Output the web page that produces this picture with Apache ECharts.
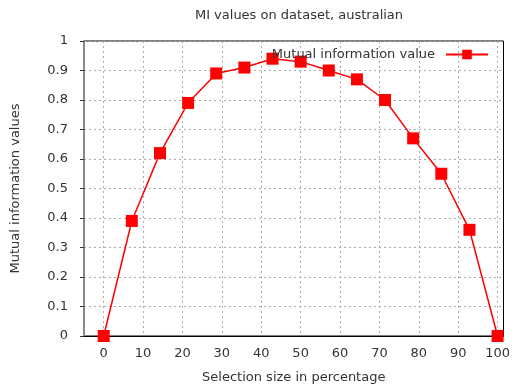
<!DOCTYPE html>
<html>
<head>
<meta charset="utf-8">
<script src="https://cdn.jsdelivr.net/npm/echarts@6/dist/echarts.min.js"></script>
<style>
  html, body { margin: 0; padding: 0; background: #fff; }
  #chart { width: 513px; height: 390px; }
</style>
</head>
<body>
<div id="chart"></div>
<script>
// Selection size (%) and the mutual information measured at each size
const selectionSizes = [0, 7.14, 14.29, 21.43, 28.57, 35.71, 42.86, 50, 57.14, 64.29, 71.43, 78.57, 85.71, 92.86, 100];
const miValues = [0, 0.39, 0.62, 0.79, 0.89, 0.91, 0.94, 0.93, 0.90, 0.87, 0.80, 0.67, 0.55, 0.36, 0];
const xTicks = [0, 10, 20, 30, 40, 50, 60, 70, 80, 90, 100];

const font = 'DejaVu Sans';
const textColor = '#333';
const fontSize = 13;

const chart = echarts.init(document.getElementById('chart'), null, { renderer: 'canvas' });

chart.setOption({
  animation: false,
  backgroundColor: '#fff',
  title: {
    text: 'MI values on dataset, australian',
    left: 294,
    textAlign: 'center',
    top: 4,
    textStyle: { fontFamily: font, fontSize: fontSize, fontWeight: 'normal', color: textColor }
  },
  legend: {
    right: 19,
    top: 43,
    align: 'right',
    itemWidth: 42,
    itemHeight: 12,
    itemGap: 0,
    textStyle: { fontFamily: font, fontSize: fontSize, color: textColor, padding: [0, 6, 0, 0] },
    data: ['Mutual information value']
  },
  grid: {
    left: 84, right: 7, top: 41, bottom: 54,
    show: true, borderColor: '#000', borderWidth: 1, backgroundColor: 'transparent'
  },
  xAxis: {
    type: 'value',
    min: -5,
    max: 101.5,
    name: 'Selection size in percentage',
    nameLocation: 'middle',
    nameGap: 35,
    nameTextStyle: { fontFamily: font, fontSize: fontSize, color: textColor },
    axisLine: { show: true, onZero: false, lineStyle: { color: '#000', width: 1 } },
    axisTick: { show: false, customValues: xTicks },
    axisLabel: { customValues: xTicks, fontFamily: font, fontSize: fontSize, color: textColor, margin: 11 },
    splitLine: { show: true, lineStyle: { color: '#aaa', type: [2, 3], width: 1 } }
  },
  yAxis: {
    type: 'value',
    min: 0,
    max: 1,
    interval: 0.1,
    name: 'Mutual information values',
    nameLocation: 'middle',
    nameGap: 62,
    nameTextStyle: { fontFamily: font, fontSize: fontSize, color: textColor },
    axisLine: { show: true, onZero: false, lineStyle: { color: '#888', width: 2 } },
    axisTick: { show: true, inside: false, length: 4, lineStyle: { color: '#333' } },
    axisLabel: {
      fontFamily: font, fontSize: fontSize, color: textColor, margin: 16,
      formatter: v => (Math.round(v * 10) / 10).toString()
    },
    splitLine: { show: true, lineStyle: { color: '#aaa', type: [2, 3], width: 1 } }
  },
  series: [{
    name: 'Mutual information value',
    type: 'line',
    data: selectionSizes.map((x, i) => [x, miValues[i]]),
    symbol: 'rect',
    symbolSize: 12,
    showAllSymbol: true,
    clip: false,
    itemStyle: { color: '#ff0000' },
    lineStyle: { color: '#ff0000', width: 1.5 }
  }]
});
</script>
</body>
</html>
